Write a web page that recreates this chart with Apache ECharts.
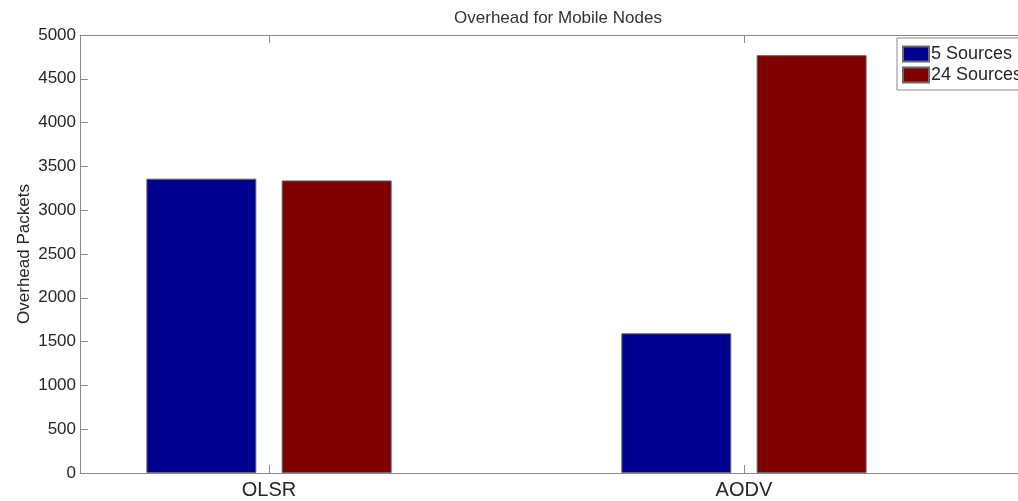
<!DOCTYPE html>
<html><head><meta charset="utf-8">
<script src="https://cdn.jsdelivr.net/npm/echarts@6/dist/echarts.min.js"></script>
<style>html,body{margin:0;padding:0;background:#fff}#c{width:1018px;height:501px}</style>
</head><body><div id="c"></div>
<script>
const categories = ['OLSR', 'AODV'];
const seriesNames = ['5 Sources', '24 Sources'];
const sources5 = [3360, 1595];
const sources24 = [3340, 4770];
const yTicks = [0, 500, 1000, 1500, 2000, 2500, 3000, 3500, 4000, 4500, 5000];

const catPos = categories.map((c, i) => i + 1);
const toData = arr => arr.map((v, i) => [catPos[i], v]);

const axisColor = '#8a8a8a';
const textColor = '#262626';
const font = 'Liberation Sans';

const chart = echarts.init(document.getElementById('c'), null, {renderer: 'canvas'});
chart.setOption({
  animation: false,
  backgroundColor: '#fff',
  textStyle: {fontFamily: font},
  title: {
    text: 'Overhead for Mobile Nodes',
    left: 553, top: 5, textAlign: 'center',
    textStyle: {fontFamily: font, fontSize: 17, fontWeight: 'normal', color: '#333'}
  },
  legend: {
    data: seriesNames,
    orient: 'vertical',
    left: 897, top: 38,
    itemWidth: 26, itemHeight: 15, itemGap: 3,
    padding: [7, 30, 6, 5],
    borderColor: axisColor, borderWidth: 1, backgroundColor: '#fff',
    icon: 'rect',
    textStyle: {fontFamily: font, fontSize: 18, color: textColor, padding: [0, 0, 0, -3]}
  },
  grid: {left: 80, top: 35, right: 0, height: 438},
  xAxis: [{
    type: 'value', min: 0.602, max: 2.577,
    splitLine: {show: false},
    axisLine: {show: true, lineStyle: {color: axisColor}},
    axisTick: {show: true, inside: true, length: 8, customValues: catPos, lineStyle: {color: axisColor}},
    axisLabel: {customValues: catPos, formatter: v => categories[Math.round(v) - 1] || '',
      fontFamily: font, fontSize: 20, color: textColor, margin: 7}
  }, {
    type: 'value', min: 0.602, max: 2.577, position: 'top',
    splitLine: {show: false},
    axisLine: {show: true, onZero: false, lineStyle: {color: axisColor}},
    axisTick: {show: true, inside: true, length: 8, customValues: catPos, lineStyle: {color: axisColor}},
    axisLabel: {show: false}
  }],
  yAxis: [{
    type: 'value', min: 0, max: 5000, interval: 500,
    name: 'Overhead Packets', nameLocation: 'middle', nameGap: 47, nameMoveOverlap: false,
    nameTextStyle: {fontFamily: font, fontSize: 17, color: textColor},
    splitLine: {show: false},
    axisLine: {show: true, lineStyle: {color: axisColor}},
    axisTick: {show: true, inside: true, length: 8, lineStyle: {color: axisColor}},
    axisLabel: {fontFamily: font, fontSize: 17, color: textColor, margin: 4,
      formatter: v => yTicks.includes(v) ? String(v) : ''}
  }],
  series: [{
    name: seriesNames[0], type: 'bar', xAxisIndex: 0,
    data: toData(sources5), barWidth: 110, barGap: '23%',
    itemStyle: {color: '#00008f', borderColor: '#6a6a6a', borderWidth: 1}
  }, {
    name: seriesNames[1], type: 'bar', xAxisIndex: 0,
    data: toData(sources24), barWidth: 110, barGap: '23%',
    itemStyle: {color: '#7f0000', borderColor: '#6a6a6a', borderWidth: 1}
  }]
});
</script></body></html>
